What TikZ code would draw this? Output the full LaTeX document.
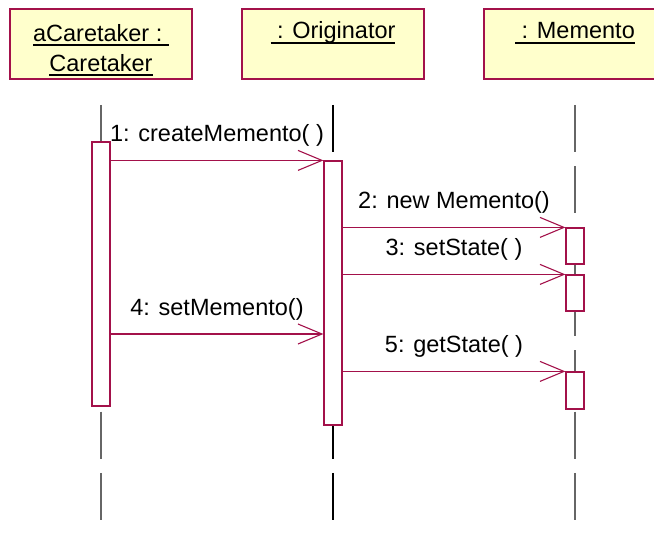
\documentclass[tikz,border=0pt]{standalone}
\usepackage{fontspec}
\setmainfont{Liberation Sans}
\usetikzlibrary{arrows.meta}
\definecolor{umlred}{HTML}{A3114A}
\definecolor{umlyellow}{HTML}{FFFFCC}
\definecolor{lifegray}{HTML}{666666}
% underlined object name with a heavier rule
\newcommand\ulname[1]{\setbox0\hbox{#1}\rlap{\raisebox{-4.6pt}{\rule{\wd0}{1.6pt}}}\box0}
\newcommand\headstrut{\rule{0pt}{29pt}}

\begin{document}
\begin{tikzpicture}[x=1pt, y=-1pt, font=\fontsize{23.5}{30}\selectfont,
    header/.style={draw=umlred, line width=1.3pt, fill=umlyellow, minimum width=182pt, minimum height=70pt, inner sep=0pt, align=center},
    lifeline/.style={draw=lifegray, line width=1.3pt, dash pattern=on 47pt off 14.3pt},
    actbar/.style={draw=umlred, line width=1.2pt, fill=white, minimum width=18pt, inner sep=0pt},
    msg/.style={draw=umlred, line width=1.1pt, -{Straight Barb[length=24pt, width=20pt, line width=1.1pt]}},
    msglabel/.style={midway, anchor=base, yshift=19pt}]
        \useasboundingbox (0,0) rectangle (654,535);
        \node[header] (hC) at (101,44) {\headstrut\ulname{aCaretaker :\ }\\\ulname{Caretaker}};
        \node[header] (hO) at (333,44) {\headstrut\ulname{\ : Originator}\\\strut};
        \node[header] (hM) at (575,44) {\headstrut\ulname{\ : Memento}\\\strut};
        \coordinate (top) at (0,105);
        \coordinate (bot) at (0,520);
        \draw[lifeline] (hC |- top) -- (hC |- bot);
        \draw[lifeline, draw=black] (hO |- top) -- (hO |- bot);
        \draw[lifeline] (hM |- top) -- (hM |- bot);
        \node[actbar, minimum height=264pt] (actC) at (hC |- 0,274) {};
        \node[actbar, minimum height=264pt] (actO) at (hO |- 0,293) {};
        \node[actbar, minimum height=36pt] (actM1) at (hM |- 0,246) {};
        \node[actbar, minimum height=36pt] (actM2) at (hM |- 0,293) {};
        \node[actbar, minimum height=37pt] (actM3) at (hM |- 0,390.5) {};
        \coordinate (m4) at (0,334);
        \draw[msg] (actC.east |- actO.north) -- node[msglabel] {1: createMemento( )} (actO.north west);
        \draw[msg] (actO.east |- actM1.north) -- node[msglabel] {2: new Memento()} (actM1.north west);
        \draw[msg] (actO.east |- actM2.north) -- node[msglabel] {3: setState( )} (actM2.north west);
        \draw[msg] (actC.east |- m4) -- node[msglabel] {4: setMemento()} (actO.west |- m4);
        \draw[msg] (actO.east |- actM3.north) -- node[msglabel] {5: getState( )} (actM3.north west);
    \end{tikzpicture}
\end{document}
